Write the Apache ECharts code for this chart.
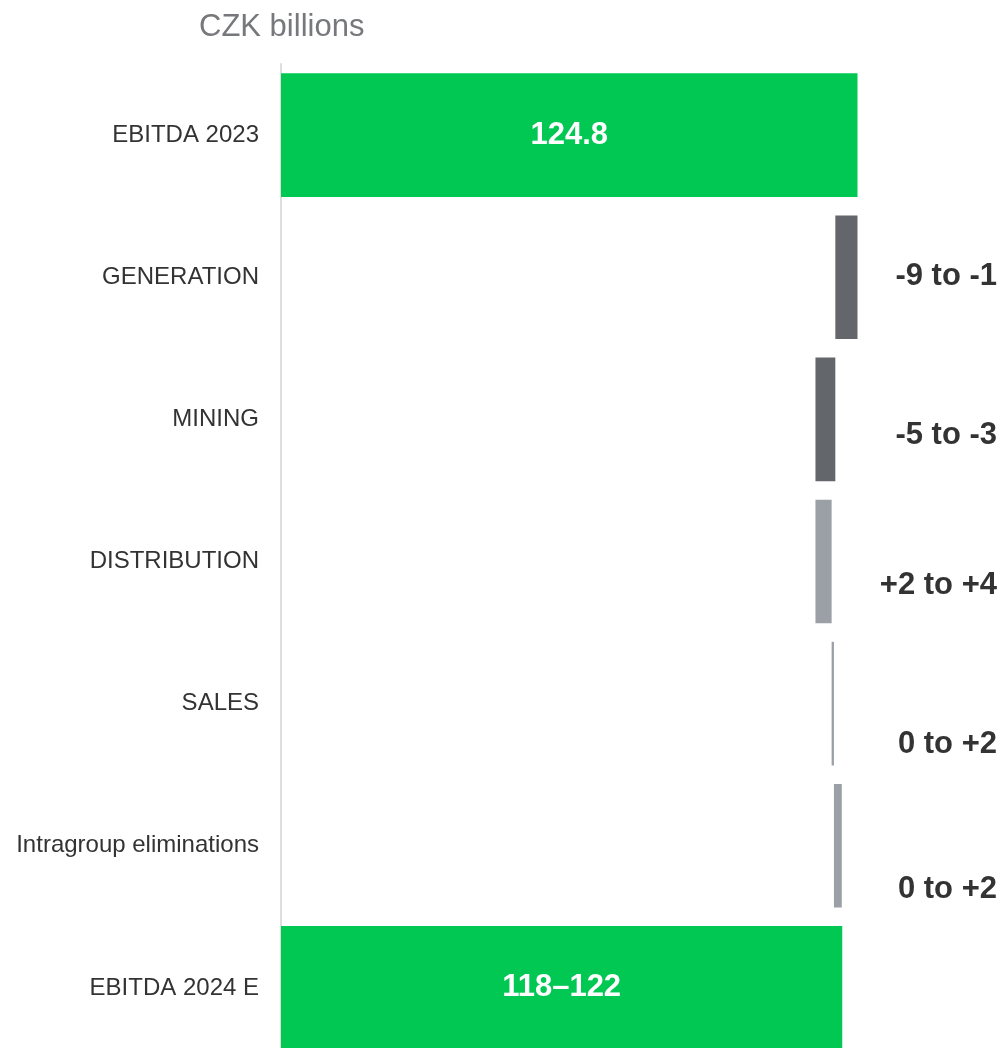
<!DOCTYPE html>
<html>
<head>
<meta charset="utf-8">
<script src="https://cdn.jsdelivr.net/npm/echarts@6/dist/echarts.min.js"></script>
<style>
html,body{margin:0;padding:0;background:#fff;overflow:hidden;width:1005px;height:1048px;}
#chart{width:1005px;height:1060px;}
</style>
</head>
<body>
<div id="chart"></div>
<script>
// ---- data ----
const categories = ['EBITDA 2023', 'GENERATION', 'MINING', 'DISTRIBUTION', 'SALES', 'Intragroup eliminations', 'EBITDA 2024 E'];
const startValue = 124.8;
const deltas = [-4.8, -4.3, 3.5, 0.5, 1.7];
const endValue = 121.5;
const totalLabels = ['124.8', '118\u2013122'];
const rangeLabels = ['-9 to -1', '-5 to -3', '+2 to +4', '0 to +2', '0 to +2'];

// ---- build waterfall ----
const baseData = [0];
const barData = [startValue];
let running = startValue;
deltas.forEach(d => {
  if (d < 0) { baseData.push(running + d); barData.push(-d); }
  else { baseData.push(running); barData.push(d); }
  running += d;
});
baseData.push(0);
barData.push(endValue);

const GREEN = '#00c853', DARK = '#63666a', LIGHT = '#9aa0a6';
const barColors = [GREEN, DARK, DARK, LIGHT, LIGHT, LIGHT, GREEN];
const labelDy = [-1, 16, 24, 41, 44];
const X_MAX = 155;
const FONT = 'Liberation Sans, Arial, sans-serif';

const chart = echarts.init(document.getElementById('chart'));
chart.setOption({
  animation: false,
  backgroundColor: '#ffffff',
  title: {
    text: 'CZK billions',
    left: 194, top: 7,
    textStyle: { fontFamily: FONT, fontSize: 31, fontWeight: 'normal', color: '#76787b' }
  },
  grid: { left: 281, top: 64, width: 716, height: 995, containLabel: false },
  xAxis: {
    type: 'value', min: 0, max: X_MAX, show: false
  },
  yAxis: {
    type: 'category', data: categories, inverse: true,
    axisLine: { show: true, lineStyle: { color: '#dedede', width: 2 } },
    axisTick: { show: false },
    splitLine: { show: false },
    axisLabel: { margin: 22, fontFamily: FONT, fontSize: 24, color: '#333333' }
  },
  series: [
    {
      type: 'bar', stack: 'w', barWidth: '87%',
      itemStyle: { color: 'transparent' },
      emphasis: { disabled: true },
      data: baseData
    },
    {
      type: 'bar', stack: 'w', barWidth: '87%',
      emphasis: { disabled: true },
      data: barData.map((v, i) => {
        const item = { value: v, itemStyle: { color: barColors[i] } };
        if (i === 0 || i === barData.length - 1) {
          item.label = {
            show: true, position: 'inside',
            formatter: totalLabels[i === 0 ? 0 : 1],
            fontFamily: FONT, fontSize: 31, fontWeight: 'bold', color: '#ffffff'
          };
        }
        return item;
      })
    },
    {
      type: 'scatter', symbolSize: 0, silent: true,
      itemStyle: { opacity: 1 },
      data: rangeLabels.map((t, i) => ({
        value: [X_MAX, i + 1],
        label: {
          show: true, position: 'left', distance: 0, offset: [0, labelDy[i]],
          formatter: t,
          fontFamily: FONT, fontSize: 31, fontWeight: 'bold', color: '#333333'
        }
      }))
    }
  ]
});
</script>
</body>
</html>
